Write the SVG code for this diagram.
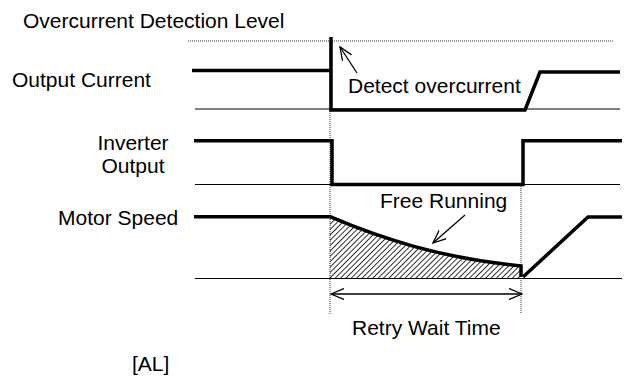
<svg xmlns="http://www.w3.org/2000/svg" width="636" height="379" viewBox="0 0 636 379">
<style>
text{font-family:"Liberation Sans",Arial,sans-serif;font-size:21px;fill:#000}
.thick{fill:none;stroke:#000;stroke-width:3.5;stroke-linejoin:miter}
.thin{fill:none;stroke:#000;stroke-width:1.2}
.dot{fill:none;stroke:#333;stroke-width:1;stroke-dasharray:1 1}
.arr{fill:none;stroke:#000;stroke-width:1.3}
</style>
<defs>
<pattern id="hatch" width="3.8" height="3.8" patternUnits="userSpaceOnUse" patternTransform="rotate(45)">
<line x1="0" y1="0" x2="0" y2="3.8" stroke="#000" stroke-width="1.6"/>
</pattern>
<marker id="open" viewBox="0 0 14 12" refX="13" refY="6" markerWidth="14" markerHeight="12" markerUnits="userSpaceOnUse" orient="auto-start-reverse">
<path d="M0,0.5 L13,6 L0,11.5" fill="none" stroke="#000" stroke-width="1.3"/>
</marker>
</defs>
<g id="labels">
<text x="23" y="28">Overcurrent Detection Level</text>
<text x="12" y="87">Output Current</text>
<text x="133" y="150" text-anchor="middle">Inverter</text>
<text x="133" y="173" text-anchor="middle">Output</text>
<text x="58" y="225">Motor Speed</text>
<text x="132" y="371">[AL]</text>
</g>
<g id="guides">
<line class="dot" x1="188" y1="41" x2="613" y2="41"/>
<line class="dot" x1="330" y1="41" x2="330" y2="314"/>
<line class="dot" x1="521" y1="186" x2="521" y2="314"/>
</g>
<g id="output-current">
<line class="thin" x1="195" y1="109" x2="620" y2="109"/>
<path class="thick" d="M192,70.5 H331 V37 M331,70.5 V110 H525 L540,72 H620"/>
</g>
<g id="inverter-output">
<line class="thin" x1="195" y1="184.5" x2="620" y2="184.5"/>
<path class="thick" d="M194,140.7 H332 V184.5 H523 V140.7 H622"/>
</g>
<g id="motor-speed">
<path d="M330,217 C380,238 440,258 521,266 V278.5 H330 Z" fill="url(#hatch)"/>
<line class="thin" x1="195" y1="278.5" x2="622" y2="278.5"/>
<path class="thick" d="M194,216.7 H330 C380,238 440,258 521,266 V277"/>
<path class="thick" d="M523,277 L588,217 H622"/>
</g>
<g id="connectors">
<line class="arr" x1="357" y1="73" x2="340" y2="47" marker-end="url(#open)"/>
<line class="arr" x1="465" y1="215" x2="433" y2="243" marker-end="url(#open)"/>
<line class="arr" x1="331" y1="294" x2="522" y2="294" marker-start="url(#open)" marker-end="url(#open)"/>
</g>
<g id="annotations">
<text x="348" y="93">Detect overcurrent</text>
<text x="380" y="208">Free Running</text>
<text x="352" y="335">Retry Wait Time</text>
</g>
</svg>
